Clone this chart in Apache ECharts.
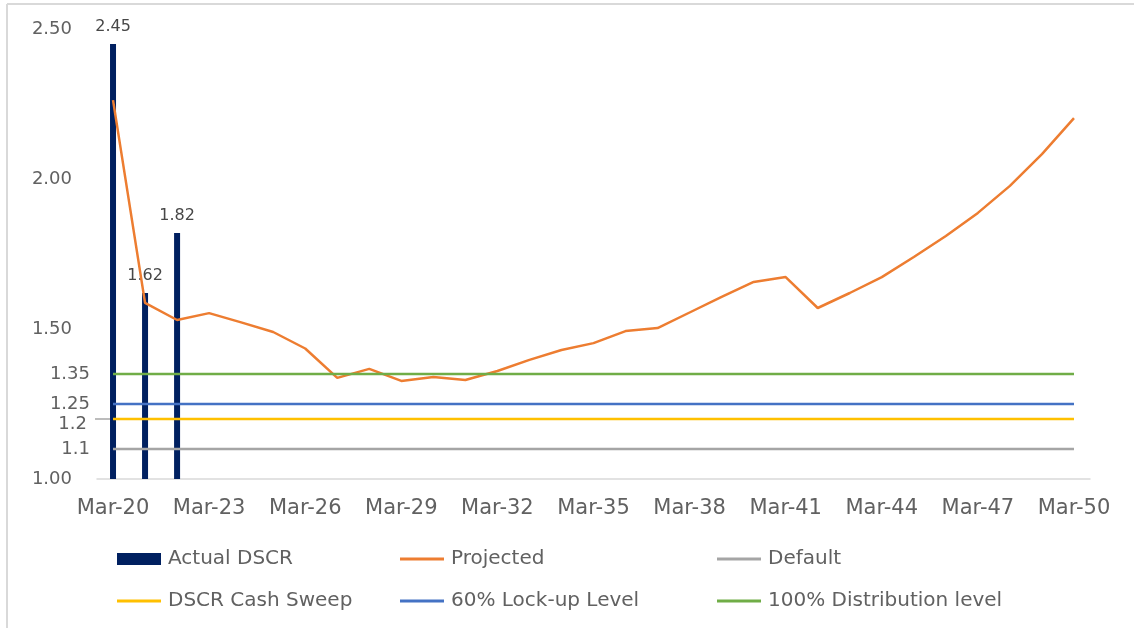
<!DOCTYPE html>
<html>
<head>
<meta charset="utf-8">
<script src="https://cdn.jsdelivr.net/npm/echarts@6/dist/echarts.min.js"></script>
<style>
  html, body { margin: 0; padding: 0; background: #fff; }
  #chart { width: 1134px; height: 628px; }
</style>
</head>
<body>
<div id="chart"></div>
<script>
// categories: one per year, March
const years = ['Mar-20','Mar-21','Mar-22','Mar-23','Mar-24','Mar-25','Mar-26','Mar-27','Mar-28','Mar-29',
  'Mar-30','Mar-31','Mar-32','Mar-33','Mar-34','Mar-35','Mar-36','Mar-37','Mar-38','Mar-39',
  'Mar-40','Mar-41','Mar-42','Mar-43','Mar-44','Mar-45','Mar-46','Mar-47','Mar-48','Mar-49','Mar-50']

const actualDscr = [2.45, 1.62, 1.82]
const projected = [2.263, 1.587, 1.53, 1.553, 1.522, 1.49, 1.435, 1.337, 1.367, 1.327,
  1.34, 1.33, 1.36, 1.397, 1.43, 1.453, 1.493, 1.503, 1.555, 1.607,
  1.657, 1.673, 1.57, 1.62, 1.673, 1.74, 1.81, 1.887, 1.977, 2.083, 2.203]

// covenant levels (flat across the whole period)
const defaultLevel = 1.1
const cashSweepLevel = 1.2
const lockupLevel = 1.25
const distributionLevel = 1.35

// custom y tick labels
const yTickValues = ['1.00', '1.10', '1.20', '1.25', '1.35', '1.50', '2.00', '2.50']
const yTickLabels = ['1.00', '1.1', '1.2', '1.25', '1.35', '1.50', '2.00', '2.50']

const flat = v => years.map(() => v)

const FONT = "'DejaVu Sans', sans-serif"
const TXT = '#616161'

const chart = echarts.init(document.getElementById('chart'))

function yLabel(val) {
  const key = Number(val).toFixed(2)
  const i = yTickValues.indexOf(key)
  if (i < 0) return ''
  const t = yTickLabels[i]
  if (t === '1.2') return '{v|' + t + '}{ln|}'
  if (t.length === 4 && t.endsWith('0')) return '{w|' + t + '}'
  return '{n|' + t + '}'
}

function lineSeries(name, data, color, z) {
  return {
    name, type: 'line', data, symbol: 'none', z: z || 3,
    lineStyle: { color, width: 2.5 }, itemStyle: { color },
    emphasis: { disabled: true }
  }
}

function legendAt(name, left, top, bar) {
  return {
    data: [name], left, top, padding: 0, itemWidth: 44, itemHeight: bar ? 12 : 3, itemGap: 0,
    icon: 'rect', selectedMode: false,
    textStyle: { fontFamily: FONT, fontSize: 20, color: TXT, padding: [0, 0, 0, 2] }
  }
}

chart.setOption({
  animation: false,
  backgroundColor: '#fff',
  graphic: [
    { type: 'line', shape: { x1: 7, y1: 4, x2: 1134, y2: 4 }, style: { stroke: '#d9d9d9', lineWidth: 2 }, silent: true },
    { type: 'line', shape: { x1: 7, y1: 4, x2: 7, y2: 628 }, style: { stroke: '#d9d9d9', lineWidth: 2 }, silent: true }
  ],
  grid: { left: 97, right: 44, top: 29, bottom: 149 },
  legend: [
    legendAt('Actual DSCR', 117, 549, true),
    legendAt('Projected', 400, 549),
    legendAt('Default', 717, 549),
    legendAt('DSCR Cash Sweep', 117, 591),
    legendAt('60% Lock-up Level', 400, 591),
    legendAt('100% Distribution level', 717, 591)
  ],
  xAxis: {
    type: 'category', data: years, boundaryGap: true,
    axisLine: { lineStyle: { color: '#d9d9d9', width: 1.5 } },
    axisTick: { show: false },
    axisLabel: { interval: 2, margin: 19, fontFamily: FONT, fontSize: 21, color: TXT }
  },
  yAxis: {
    type: 'value', min: 1, max: 2.5, interval: 0.05,
    axisLine: { show: false }, axisTick: { show: false }, splitLine: { show: false },
    axisLabel: {
      margin: -13, formatter: yLabel,
      fontFamily: FONT, fontSize: 18, color: TXT,
      rich: {
        n: { fontFamily: FONT, fontSize: 18, color: TXT, padding: [0, 20, 0, 0] },
        w: { fontFamily: FONT, fontSize: 18, color: TXT, padding: [0, 38, 0, 0] },
        v: { fontFamily: FONT, fontSize: 18, color: TXT, padding: [10, 8, 0, 0] },
        ln: { width: 15, height: 1.5, backgroundColor: '#a6a6a6' }
      }
    }
  },
  series: [
    {
      name: 'Actual DSCR', type: 'bar', data: actualDscr, barWidth: 6,
      itemStyle: { color: '#002060' },
      label: { show: true, position: 'top', distance: 9, fontFamily: FONT, fontSize: 16, color: '#474747' },
      emphasis: { disabled: true }
    },
    lineSeries('Projected', projected, '#ED7D31', 3),
    lineSeries('Default', flat(defaultLevel), '#A5A5A5', 4),
    lineSeries('DSCR Cash Sweep', flat(cashSweepLevel), '#FFC000', 4),
    lineSeries('60% Lock-up Level', flat(lockupLevel), '#4472C4', 4),
    lineSeries('100% Distribution level', flat(distributionLevel), '#70AD47', 4)
  ]
})

window.addEventListener('resize', () => chart.resize())
</script>
</body>
</html>
